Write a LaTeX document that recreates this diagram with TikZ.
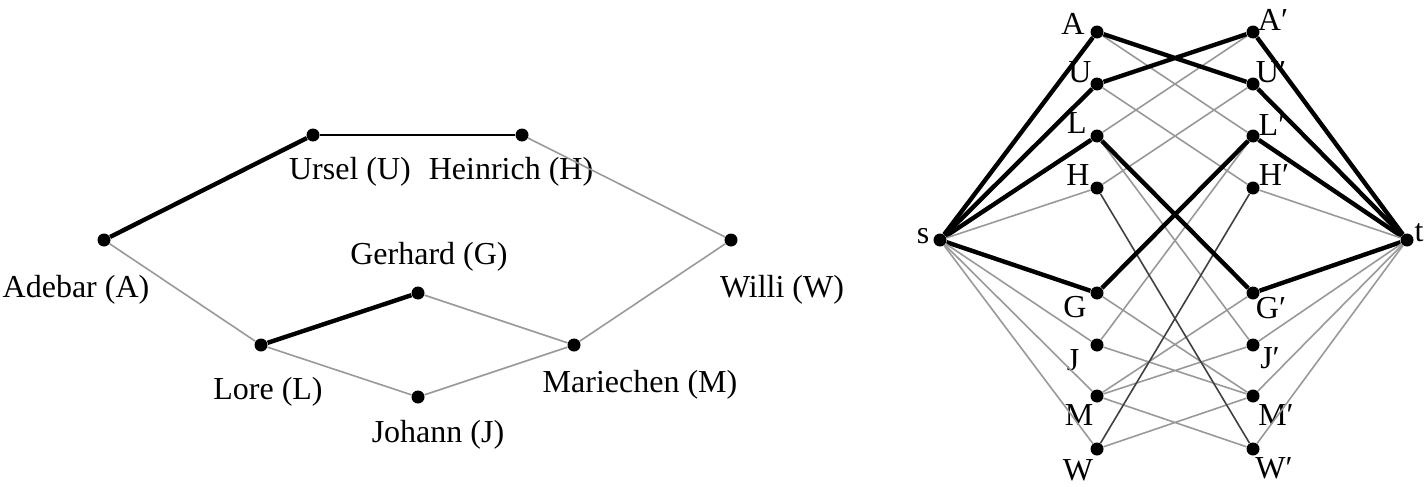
\documentclass[tikz,border=0pt]{standalone}
\usepackage{fontspec}
\setmainfont{Liberation Serif}
\tikzset{%
  % dots, labels and lines
     dot/.style = {circle, fill=black, inner sep=0pt, minimum size=6.5pt},
     lbl/.style = {inner sep=0pt, font=\fontsize{16}{18}\selectfont},
    slbl/.style = {inner sep=0pt, font=\fontsize{16}{18}\selectfont},
   match/.style = {line width=2.2pt, black},
    link/.style = {line width=0.8pt, black!40},
   plain/.style = {line width=1pt, black},
    dark/.style = {line width=0.8pt, black!75},
}

\begin{document}
\begin{tikzpicture}[x=0.5pt, y=-0.5pt]
  \useasboundingbox (0,0) rectangle (1425,487);
  % Left graph: persons
  \node (A) [dot] at (104,240) {};
  \node (U) [dot] at (313,135) {};
  \node (H) [dot] at (522,135) {};
  \node (W) [dot] at (731,240) {};
  \node (G) [dot] at (418,293) {};
  \node (L) [dot] at (261,345) {};
  \node (J) [dot] at (418,397) {};
  \node (M) [dot] at (574,345) {};

  \node (lA) [lbl] at (76,290) {Adebar (A)};
  \node (lU) [lbl] at (350,172) {Ursel (U)};
  \node (lH) [lbl] at (511,172) {Heinrich (H)};
  \node (lW) [lbl] at (782,290) {Willi (W)};
  \node (lG) [lbl] at (429,257) {Gerhard (G)};
  \node (lL) [lbl] at (268,392) {Lore (L)};
  \node (lJ) [lbl] at (438,435) {Johann (J)};
  \node (lM) [lbl] at (640,385) {Mariechen (M)};

  \draw[match] (A) -- (U);
  \draw[plain] (U) -- (H);
  \draw[link] (H) -- (W);
  \draw[link] (A) -- (L);
  \draw[match] (L) -- (G);
  \draw[link] (G) -- (M);
  \draw[link] (L) -- (J);
  \draw[link] (J) -- (M);
  \draw[link] (M) -- (W);

  % Right graph: flow network
  \node (s) [dot] at (940,240) {};
  \node (t) [dot] at (1407,240) {};
  \foreach \n/\y in {A/32,U/84,L/136,H/188,G/293,J/345,M/396,W/449} {
    \node (x\n) [dot] at (1097,\y) {};
    \node (y\n) [dot] at (1253,\y) {};
  }

  \node (ls) [slbl] at (923,236) {s};
  \node (lt) [slbl] at (1419,233) {t};
  \node (lxA) [slbl] at (1073,24) {A};
  \node (lxU) [slbl] at (1080,72) {U};
  \node (lxL) [slbl] at (1077,123) {L};
  \node (lxH) [slbl] at (1078,175) {H};
  \node (lxG) [slbl] at (1075,307) {G};
  \node (lxJ) [slbl] at (1073,360) {J};
  \node (lxM) [slbl] at (1079,415) {M};
  \node (lxW) [slbl] at (1078,470) {W};
  \node (lyA) [slbl] at (1273,20) {A′};
  \node (lyU) [slbl] at (1271,72) {U′};
  \node (lyL) [slbl] at (1272,125) {L′};
  \node (lyH) [slbl] at (1274,175) {H′};
  \node (lyG) [slbl] at (1271,308) {G′};
  \node (lyJ) [slbl] at (1270,358) {J′};
  \node (lyM) [slbl] at (1276,415) {M′};
  \node (lyW) [slbl] at (1274,468) {W′};

  \foreach \n in {A,U,L,G}
    \draw[match] (s) -- (x\n) (y\n) -- (t);
  \foreach \n in {H,J,M,W}
    \draw[link] (s) -- (x\n) (y\n) -- (t);
  \foreach \a/\b in {A/L,U/H,L/J,G/M,J/M,M/W}
    \draw[link] (x\a) -- (y\b) (x\b) -- (y\a);
  \draw[dark] (xH) -- (yW) (xW) -- (yH);
  \draw[match] (xA) -- (yU) (xU) -- (yA) (xL) -- (yG) (xG) -- (yL);
\end{tikzpicture}
\end{document}
